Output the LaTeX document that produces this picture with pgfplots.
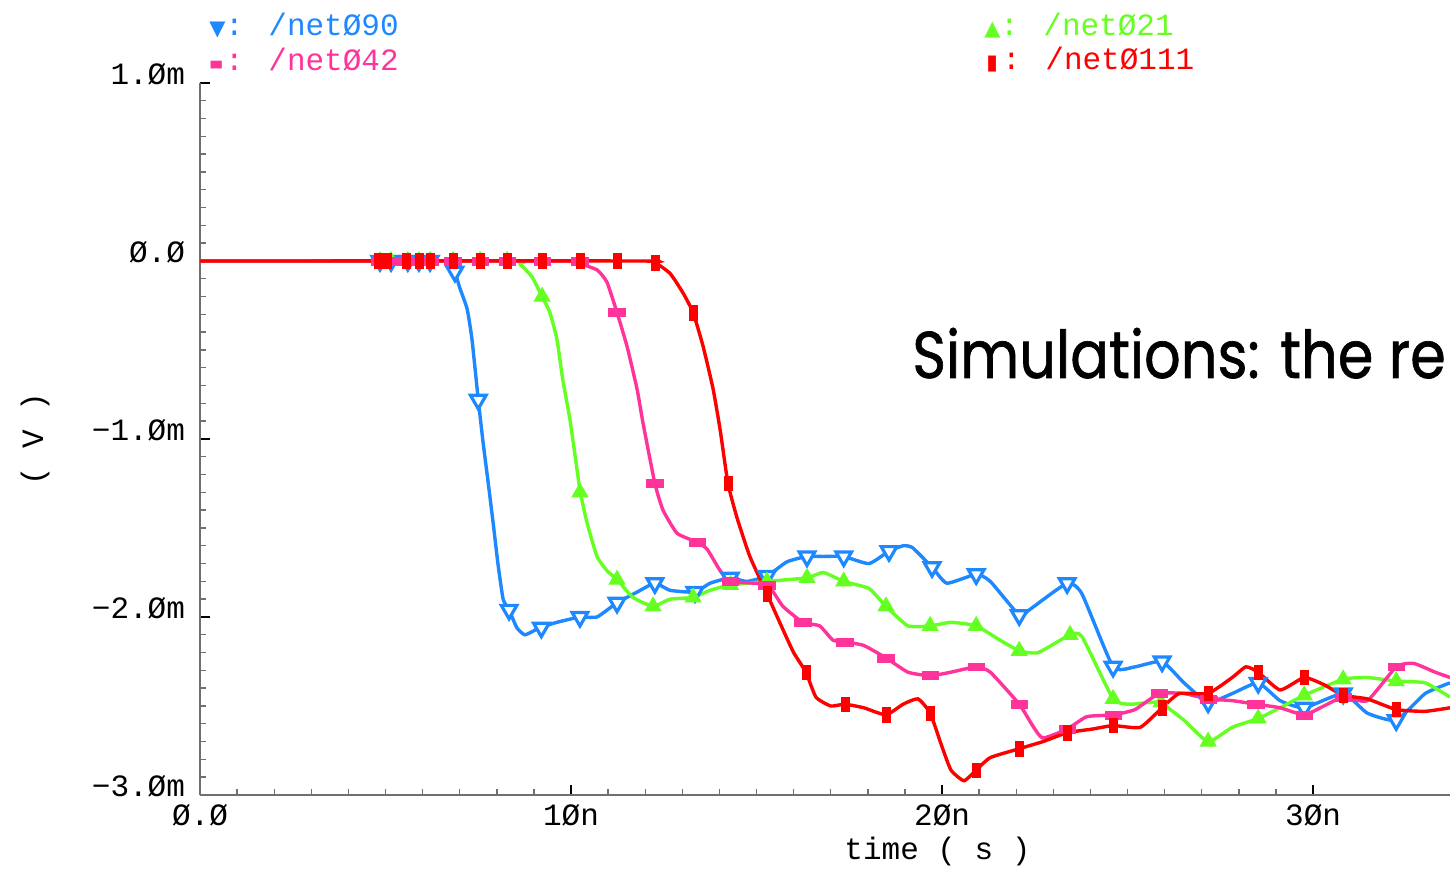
\documentclass[border=0pt]{standalone}
\usepackage{fontspec}
\usepackage{graphicx}
\setmainfont{Liberation Mono}
\newfontfamily\symfont{DejaVu Sans}
\newfontfamily\bigfont[FakeBold=1]{Poppins}
\usepackage{pgfplots}
\pgfplotsset{compat=1.18}
\definecolor{cblue}{HTML}{1E88FF}
\definecolor{cgreen}{HTML}{66FF22}
\definecolor{cpink}{HTML}{FF3399}
\definecolor{cred}{HTML}{FF0000}
\definecolor{axgray}{HTML}{707070}
\newcommand{\tfont}{\fontsize{15.5}{15.5}\selectfont}
\newcommand{\legsym}[1]{\makebox[7.8pt][l]{\symfont\fontsize{10.5}{10.5}\selectfont #1}}
\begin{document}
\begin{tikzpicture}
\useasboundingbox[fill=white] (-100pt,-43.5pt) rectangle (625pt,397.5pt);
\clip (-100pt,-43.5pt) rectangle (625pt,397.5pt);
\begin{axis}[
  at={(0pt,0pt)}, anchor=south west,
  scale only axis, width=625pt, height=356pt,
  xmin=0, xmax=33.69, ymin=-3, ymax=1,
  axis x line*=bottom, axis y line*=left,
  axis line style={axgray, line width=1pt},
  xtick={0,10,20,30}, xticklabels={Ø.Ø,1Øn,2Øn,3Øn},
  ytick={-3,-2,-1,0,1}, yticklabels={−3.Øm,−2.Øm,−1.Øm,Ø.Ø,1.Øm},
  minor x tick num=9, minor y tick num=9,
  tick align=inside,
  major tick length=5pt, minor tick length=3pt,
  major tick style={black, line width=0.8pt},
  minor tick style={axgray, line width=0.7pt},
  tick label style={font=\tfont},
  yticklabel style={anchor=east, xshift=-4pt, yshift=4.5pt},
  xticklabel style={anchor=north, yshift=-1pt},
  xlabel={time ( s )}, ylabel={( V )},
  label style={font=\tfont},
  xlabel style={at={(axis description cs:0.59,-0.08)}, anchor=center},
  ylabel style={at={(axis description cs:-0.132,0.50)}, anchor=center, rotate=0},
  every axis plot/.append style={line width=1.7pt},
]
% ---- net090 (blue)
\addplot[cblue, smooth, tension=0.3, no marks] coordinates {
(0,0) (6.6,0) (6.74,-0.01) (6.87,-0.06) (7.0,-0.15) (7.2,-0.27) (7.33,-0.44) (7.5,-0.78) (7.63,-1.02) (7.77,-1.25) (7.9,-1.47) (8.03,-1.70) (8.17,-1.90) (8.33,-1.96) (8.54,-2.06) (8.76,-2.10) (9.16,-2.06) (9.62,-2.03) (10.24,-2.0) (10.7,-2.0) (11.24,-1.92) (11.78,-1.86) (12.26,-1.81) (12.67,-1.85) (13.34,-1.86) (13.75,-1.81) (14.29,-1.78) (14.74,-1.80) (15.28,-1.77) (15.82,-1.69) (16.36,-1.66) (16.8,-1.66) (17.35,-1.66) (18.03,-1.70) (18.57,-1.63) (18.95,-1.60) (19.2,-1.61) (19.73,-1.72) (20.13,-1.81) (20.92,-1.76) (21.3,-1.80) (22.08,-1.99) (22.35,-1.96) (23.37,-1.81) (23.77,-1.87) (24.61,-2.28) (25.2,-2.28) (25.93,-2.25) (26.52,-2.37) (27.17,-2.48) (27.82,-2.43) (28.52,-2.37) (29.11,-2.47) (29.76,-2.51) (30.81,-2.43) (31.46,-2.54) (32.24,-2.58) (33.02,-2.43) (33.69,-2.37)
};
\addplot[cblue, only marks, mark=triangle*, mark size=4.5pt, mark options={rotate=180, fill=white, draw=cblue, line width=1.6pt}] coordinates {
(4.85,0) (5.15,0) (5.6,0) (5.9,0) (6.2,0) (6.87,-0.06) (7.5,-0.78) (8.33,-1.96) (9.2,-2.06) (10.24,-2.0) (11.24,-1.92) (12.26,-1.81) (13.34,-1.86) (14.29,-1.78) (15.28,-1.77) (16.36,-1.66) (17.35,-1.66) (18.57,-1.63) (19.73,-1.72) (20.92,-1.76) (22.08,-1.99) (23.37,-1.81) (24.61,-2.28) (25.93,-2.25) (27.17,-2.48) (28.52,-2.37) (29.76,-2.51) (30.81,-2.43) (32.24,-2.58)
};
% ---- net021 (green)
\addplot[cgreen, smooth, tension=0.3, no marks] coordinates {
(0,0) (8.3,0) (8.63,-0.02) (8.95,-0.09) (9.22,-0.20) (9.43,-0.29) (9.62,-0.44) (9.78,-0.67) (9.97,-0.89) (10.16,-1.17) (10.25,-1.30) (10.43,-1.47) (10.7,-1.66) (10.97,-1.74) (11.24,-1.79) (11.67,-1.89) (12.21,-1.94) (12.67,-1.90) (13.29,-1.89) (13.75,-1.85) (14.3,-1.82) (15.28,-1.80) (16.36,-1.78) (16.8,-1.75) (17.35,-1.80) (18.03,-1.84) (18.49,-1.94) (19.08,-2.05) (19.68,-2.05) (20.24,-2.03) (20.92,-2.05) (21.56,-2.13) (22.08,-2.19) (22.59,-2.20) (23.45,-2.10) (23.77,-2.11) (24.61,-2.46) (25.07,-2.49) (25.85,-2.48) (26.52,-2.58) (27.17,-2.70) (27.82,-2.62) (28.52,-2.57) (29.11,-2.51) (29.76,-2.44) (30.81,-2.35) (31.46,-2.34) (32.24,-2.36) (33.02,-2.37) (33.69,-2.45)
};
\addplot[cgreen, only marks, mark=triangle*, mark size=4.5pt, mark options={fill=cgreen, draw=cgreen, line width=0.5pt}] coordinates {
(4.85,0) (5.15,0) (5.6,0) (5.9,0) (6.2,0) (6.82,0) (7.55,0) (8.28,0) (9.22,-0.20) (10.24,-1.30) (11.24,-1.79) (12.21,-1.94) (13.29,-1.89) (14.3,-1.82) (15.28,-1.80) (16.36,-1.78) (17.35,-1.80) (18.49,-1.94) (19.68,-2.05) (20.92,-2.05) (22.08,-2.19) (23.45,-2.10) (24.61,-2.46) (25.9,-2.48) (27.17,-2.70) (28.52,-2.57) (29.76,-2.44) (30.81,-2.35) (32.24,-2.36)
};
% ---- net042 (pink)
\addplot[cpink, smooth, tension=0.3, no marks] coordinates {
(0,0) (9.9,0) (10.16,-0.01) (10.7,-0.05) (10.97,-0.12) (11.24,-0.29) (11.51,-0.48) (11.78,-0.72) (11.94,-0.91) (12.26,-1.25) (12.48,-1.40) (12.86,-1.53) (13.4,-1.58) (13.67,-1.62) (14.02,-1.74) (14.29,-1.80) (15.28,-1.82) (15.71,-1.94) (16.25,-2.03) (16.7,-2.05) (17.06,-2.13) (17.4,-2.14) (17.89,-2.16) (18.49,-2.23) (19.08,-2.31) (19.68,-2.33) (20.24,-2.31) (20.92,-2.28) (21.3,-2.31) (22.08,-2.49) (22.47,-2.62) (22.72,-2.68) (23.37,-2.63) (23.9,-2.56) (24.61,-2.55) (25.2,-2.52) (25.85,-2.43) (26.52,-2.43) (27.17,-2.46) (27.82,-2.47) (28.46,-2.49) (29.11,-2.51) (29.76,-2.55) (30.29,-2.50) (30.81,-2.45) (31.46,-2.47) (32.24,-2.28) (32.7,-2.26) (33.29,-2.31) (33.69,-2.34)
};
\addplot[cpink, only marks, mark=square*, mark size=3.6pt, mark options={xscale=1.15, yscale=0.55, fill=cpink, draw=cpink, line width=0.3pt}] coordinates {
(4.85,0) (5.15,0) (5.6,0) (5.9,0) (6.2,0) (6.82,0) (7.55,0) (8.28,0) (9.22,0) (10.24,0) (11.24,-0.29) (12.26,-1.25) (13.4,-1.58) (14.29,-1.80) (15.28,-1.82) (16.25,-2.03) (17.38,-2.14) (18.49,-2.23) (19.68,-2.33) (20.92,-2.28) (22.08,-2.49) (23.37,-2.63) (24.61,-2.55) (25.85,-2.43) (27.17,-2.46) (28.46,-2.49) (29.76,-2.55) (30.81,-2.45) (32.24,-2.28)
};
% ---- net0111 (red)
\addplot[cred, smooth, tension=0.3, no marks] coordinates {
(0,0) (11.78,0) (12.26,-0.01) (12.67,-0.07) (13.02,-0.18) (13.29,-0.29) (13.56,-0.48) (13.83,-0.72) (14.02,-0.95) (14.23,-1.25) (14.47,-1.44) (14.82,-1.66) (15.28,-1.87) (15.71,-2.07) (16.0,-2.2) (16.33,-2.31) (16.6,-2.45) (17.0,-2.50) (17.38,-2.49) (17.89,-2.51) (18.49,-2.55) (18.95,-2.49) (19.35,-2.46) (19.68,-2.54) (20.0,-2.73) (20.24,-2.86) (20.59,-2.92) (20.92,-2.86) (21.3,-2.79) (22.08,-2.74) (22.72,-2.70) (23.37,-2.65) (24.04,-2.63) (24.61,-2.61) (25.34,-2.62) (25.93,-2.51) (26.39,-2.43) (27.17,-2.43) (27.82,-2.34) (28.19,-2.28) (28.52,-2.31) (29.11,-2.41) (29.76,-2.34) (30.29,-2.38) (30.81,-2.44) (31.46,-2.46) (32.24,-2.52) (33.02,-2.53) (33.69,-2.51)
};
\addplot[cred, only marks, mark=square*, mark size=3.6pt, mark options={xscale=0.55, fill=cred, draw=cred, line width=0.3pt}] coordinates {
(4.8,0) (5.05,0) (5.55,0) (5.9,0) (6.2,0) (6.82,0) (7.55,0) (8.28,0) (9.22,0) (10.24,0) (11.24,0) (12.26,-0.01) (13.29,-0.29) (14.23,-1.25) (15.28,-1.87) (16.33,-2.31) (17.38,-2.49) (18.49,-2.55) (19.68,-2.54) (20.92,-2.86) (22.08,-2.74) (23.37,-2.65) (24.61,-2.61) (25.93,-2.51) (27.17,-2.43) (28.52,-2.31) (29.76,-2.34) (30.81,-2.44) (32.24,-2.52)
};
\end{axis}
% legend
\node[anchor=west, inner sep=0pt, text=cblue, font=\tfont] at (4.5pt,384.5pt) {\legsym{▼}: /netØ90};
\node[anchor=west, inner sep=0pt, text=cpink, font=\tfont] at (4.5pt,367.5pt) {\legsym{\scalebox{0.7}[1]{▬}}: /netØ42};
\node[anchor=west, inner sep=0pt, text=cgreen, font=\tfont] at (392pt,384.5pt) {\legsym{▲}: /netØ21};
\node[anchor=west, inner sep=0pt, text=cred, font=\tfont] at (393pt,367.5pt) {\legsym{▮}: /netØ111};
% overlay title text
\node[anchor=base west, inner sep=0pt, xscale=0.87, font=\bigfont\fontsize{33}{33}\selectfont] at (356pt,208.5pt) {Simulations: the re};
\end{tikzpicture}
\end{document}
